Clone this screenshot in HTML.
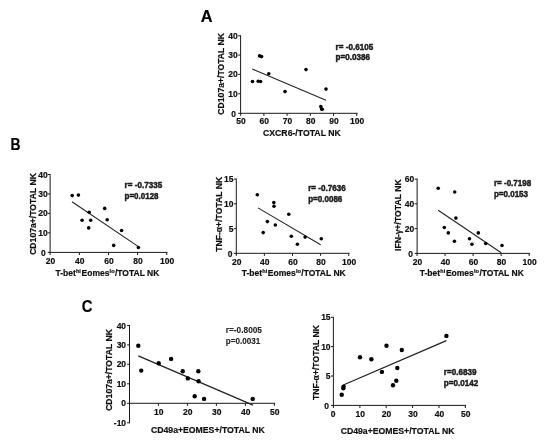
<!DOCTYPE html>
<html lang="en">
<head>
<meta charset="utf-8">
<title>Figure</title>
<style>
html,body{margin:0;padding:0;background:#fff;}
body{width:550px;height:446px;overflow:hidden;}
svg{display:block;filter:blur(0.35px);}
text{font-family:"Liberation Sans", sans-serif;fill:#111;stroke:#111;stroke-width:0.2px;}
.ax{stroke:#1a1a1a;stroke-width:1;fill:none;}
.fit{stroke:#222;fill:none;}
.dot{fill:#000;}
.tk{font-size:8.5px;font-weight:bold;}
.lb{font-size:8.7px;font-weight:bold;}
.yl{font-size:8.65px;font-weight:bold;}
.sup{font-size:5.6px;}
.st{font-size:8.3px;font-weight:bold;fill:#1c1c1c;stroke:#1c1c1c;stroke-width:0.45px;}
.st2{font-size:8.9px;font-weight:bold;fill:#262626;stroke:#262626;stroke-width:0.12px;}

.pl{font-size:16.5px;font-weight:bold;fill:#000;}
</style>
</head>
<body>
<svg width="550" height="446" viewBox="0 0 550 446">
<rect x="0" y="0" width="550" height="446" fill="#ffffff"/>
<g>
<line x1="240.6" y1="35.3" x2="240.6" y2="113.8" class="ax"/>
<line x1="240.1" y1="113.3" x2="357.7" y2="113.3" class="ax"/>
<line x1="238.2" y1="35.8" x2="240.6" y2="35.8" class="ax"/>
<text x="237.8" y="38.8" class="tk" text-anchor="end">40</text>
<line x1="238.2" y1="55.1" x2="240.6" y2="55.1" class="ax"/>
<text x="237.8" y="58.1" class="tk" text-anchor="end">30</text>
<line x1="238.2" y1="74.4" x2="240.6" y2="74.4" class="ax"/>
<text x="237.8" y="77.4" class="tk" text-anchor="end">20</text>
<line x1="238.2" y1="93.8" x2="240.6" y2="93.8" class="ax"/>
<text x="237.8" y="96.8" class="tk" text-anchor="end">10</text>
<line x1="238.2" y1="113.3" x2="240.6" y2="113.3" class="ax"/>
<text x="236.1" y="116.9" class="tk" text-anchor="end">0</text>
<line x1="240.7" y1="113.3" x2="240.7" y2="115.89999999999999" class="ax"/>
<text x="241.1" y="124.3" class="tk" text-anchor="middle">50</text>
<line x1="263.9" y1="113.3" x2="263.9" y2="115.89999999999999" class="ax"/>
<text x="264.3" y="124.3" class="tk" text-anchor="middle">60</text>
<line x1="287.1" y1="113.3" x2="287.1" y2="115.89999999999999" class="ax"/>
<text x="287.5" y="124.3" class="tk" text-anchor="middle">70</text>
<line x1="310.3" y1="113.3" x2="310.3" y2="115.89999999999999" class="ax"/>
<text x="310.7" y="124.3" class="tk" text-anchor="middle">80</text>
<line x1="333.5" y1="113.3" x2="333.5" y2="115.89999999999999" class="ax"/>
<text x="333.9" y="124.3" class="tk" text-anchor="middle">90</text>
<line x1="356.7" y1="113.3" x2="356.7" y2="115.89999999999999" class="ax"/>
<text x="357.1" y="124.3" class="tk" text-anchor="middle">100</text>
<text transform="translate(224,73.8) rotate(-90)" class="yl" text-anchor="middle">CD107a+/TOTAL NK</text>
<text x="301.9" y="136.0" class="lb" text-anchor="middle" style="font-size:8.7px">CXCR6-/TOTAL NK</text>
<line x1="252.2" y1="68.9" x2="326" y2="100.2" class="fit" stroke-width="1.05"/>
<circle cx="252.5" cy="81.5" r="1.8" class="dot"/>
<circle cx="258.2" cy="81.2" r="1.8" class="dot"/>
<circle cx="260.6" cy="81.5" r="1.8" class="dot"/>
<circle cx="259.6" cy="55.9" r="1.8" class="dot"/>
<circle cx="261.6" cy="56.6" r="1.8" class="dot"/>
<circle cx="268.8" cy="73.8" r="1.8" class="dot"/>
<circle cx="285" cy="91.6" r="1.8" class="dot"/>
<circle cx="306" cy="69.6" r="1.8" class="dot"/>
<circle cx="326" cy="89.1" r="1.8" class="dot"/>
<circle cx="320.8" cy="106.5" r="1.8" class="dot"/>
<circle cx="321.5" cy="109.1" r="1.8" class="dot"/>
<circle cx="322.3" cy="109.2" r="1.8" class="dot"/>
<text transform="translate(335.6,49.95) scale(0.9759,1)" class="st">r= -0.6105</text>
<text transform="translate(335.6,60.45) scale(0.9745,1)" class="st">p=0.0386</text>
</g>
<g>
<line x1="50.1" y1="174.0" x2="50.1" y2="252.9" class="ax"/>
<line x1="49.6" y1="252.4" x2="167.5" y2="252.4" class="ax"/>
<line x1="47.7" y1="174.5" x2="50.1" y2="174.5" class="ax"/>
<text x="47.7" y="177.5" class="tk" text-anchor="end">40</text>
<line x1="47.7" y1="193.95" x2="50.1" y2="193.95" class="ax"/>
<text x="47.7" y="196.95" class="tk" text-anchor="end">30</text>
<line x1="47.7" y1="213.4" x2="50.1" y2="213.4" class="ax"/>
<text x="47.7" y="216.4" class="tk" text-anchor="end">20</text>
<line x1="47.7" y1="232.9" x2="50.1" y2="232.9" class="ax"/>
<text x="47.7" y="235.9" class="tk" text-anchor="end">10</text>
<line x1="47.7" y1="252.4" x2="50.1" y2="252.4" class="ax"/>
<text x="45.7" y="255.8" class="tk" text-anchor="end">0</text>
<line x1="50.1" y1="252.4" x2="50.1" y2="255.0" class="ax"/>
<text x="50.5" y="263.7" class="tk" text-anchor="middle">20</text>
<line x1="79.4" y1="252.4" x2="79.4" y2="255.0" class="ax"/>
<text x="79.8" y="263.7" class="tk" text-anchor="middle">40</text>
<line x1="108.5" y1="252.4" x2="108.5" y2="255.0" class="ax"/>
<text x="108.9" y="263.7" class="tk" text-anchor="middle">60</text>
<line x1="137.6" y1="252.4" x2="137.6" y2="255.0" class="ax"/>
<text x="138.0" y="263.7" class="tk" text-anchor="middle">80</text>
<line x1="166.7" y1="252.4" x2="166.7" y2="255.0" class="ax"/>
<text x="167.1" y="263.7" class="tk" text-anchor="middle">100</text>
<text transform="translate(35.8,214) rotate(-90)" class="yl" text-anchor="middle">CD107a+/TOTAL NK</text>
<text x="107.4" y="276.2" class="lb" text-anchor="middle" style="font-size:8.5px">T-bet<tspan class="sup" dy="-3.0" dx="0.2">hi</tspan><tspan dy="3.0" dx="0.6">Eomes</tspan><tspan class="sup" dy="-3.0" dx="0.2">lo</tspan><tspan dy="3.0" dx="0.4">/TOTAL NK</tspan></text>
<line x1="72" y1="201.7" x2="138.4" y2="246.6" class="fit" stroke-width="1.05"/>
<circle cx="72.2" cy="195.6" r="1.8" class="dot"/>
<circle cx="78.4" cy="195.1" r="1.8" class="dot"/>
<circle cx="82.1" cy="220.2" r="1.8" class="dot"/>
<circle cx="90.7" cy="220.2" r="1.8" class="dot"/>
<circle cx="89.2" cy="212.3" r="1.8" class="dot"/>
<circle cx="88.7" cy="227.9" r="1.8" class="dot"/>
<circle cx="104.7" cy="208.4" r="1.8" class="dot"/>
<circle cx="107.2" cy="219.7" r="1.8" class="dot"/>
<circle cx="113.7" cy="245.4" r="1.8" class="dot"/>
<circle cx="121.6" cy="230.5" r="1.8" class="dot"/>
<circle cx="138.4" cy="247.5" r="1.8" class="dot"/>
<text transform="translate(124.6,188.15) scale(0.9759,1)" class="st">r= -0.7335</text>
<text transform="translate(124.6,198.95) scale(0.9632,1)" class="st">p=0.0128</text>
</g>
<g>
<line x1="236.3" y1="178.6" x2="236.3" y2="253.8" class="ax"/>
<line x1="235.8" y1="253.3" x2="349.5" y2="253.3" class="ax"/>
<line x1="233.9" y1="179.1" x2="236.3" y2="179.1" class="ax"/>
<text x="233.5" y="182.1" class="tk" text-anchor="end">15</text>
<line x1="233.9" y1="203.8" x2="236.3" y2="203.8" class="ax"/>
<text x="233.5" y="206.8" class="tk" text-anchor="end">10</text>
<line x1="233.9" y1="228.6" x2="236.3" y2="228.6" class="ax"/>
<text x="233.5" y="231.6" class="tk" text-anchor="end">5</text>
<line x1="233.9" y1="253.3" x2="236.3" y2="253.3" class="ax"/>
<text x="232.4" y="256.7" class="tk" text-anchor="end">0</text>
<line x1="236.3" y1="253.3" x2="236.3" y2="255.9" class="ax"/>
<text x="236.7" y="264.6" class="tk" text-anchor="middle">20</text>
<line x1="264.4" y1="253.3" x2="264.4" y2="255.9" class="ax"/>
<text x="264.8" y="264.6" class="tk" text-anchor="middle">40</text>
<line x1="292.5" y1="253.3" x2="292.5" y2="255.9" class="ax"/>
<text x="292.9" y="264.6" class="tk" text-anchor="middle">60</text>
<line x1="320.6" y1="253.3" x2="320.6" y2="255.9" class="ax"/>
<text x="321.0" y="264.6" class="tk" text-anchor="middle">80</text>
<line x1="348.7" y1="253.3" x2="348.7" y2="255.9" class="ax"/>
<text x="349.1" y="264.6" class="tk" text-anchor="middle">100</text>
<text transform="translate(221.8,214.3) rotate(-90)" class="yl" text-anchor="middle">TNF-α+/TOTAL NK</text>
<text x="293.7" y="276.3" class="lb" text-anchor="middle" style="font-size:8.5px">T-bet<tspan class="sup" dy="-3.0" dx="0.2">hi</tspan><tspan dy="3.0" dx="0.6">Eomes</tspan><tspan class="sup" dy="-3.0" dx="0.2">lo</tspan><tspan dy="3.0" dx="0.4">/TOTAL NK</tspan></text>
<line x1="258.0" y1="207.9" x2="320.7" y2="244.7" class="fit" stroke-width="1.05"/>
<circle cx="257.3" cy="194.7" r="1.8" class="dot"/>
<circle cx="273.8" cy="202.6" r="1.8" class="dot"/>
<circle cx="274" cy="206.3" r="1.8" class="dot"/>
<circle cx="267.4" cy="221.6" r="1.8" class="dot"/>
<circle cx="275.3" cy="225.0" r="1.8" class="dot"/>
<circle cx="263.2" cy="232.6" r="1.8" class="dot"/>
<circle cx="288.8" cy="214.2" r="1.8" class="dot"/>
<circle cx="291.3" cy="236.3" r="1.8" class="dot"/>
<circle cx="297.4" cy="244.2" r="1.8" class="dot"/>
<circle cx="305.1" cy="237.1" r="1.8" class="dot"/>
<circle cx="321.3" cy="238.8" r="1.8" class="dot"/>
<text transform="translate(308.2,190.95) scale(0.9785,1)" class="st">r= -0.7636</text>
<text transform="translate(308.2,202.45) scale(0.9688,1)" class="st">p=0.0086</text>
</g>
<g>
<line x1="417.1" y1="178.6" x2="417.1" y2="253.9" class="ax"/>
<line x1="416.6" y1="253.4" x2="530.0" y2="253.4" class="ax"/>
<line x1="414.70000000000005" y1="179.1" x2="417.1" y2="179.1" class="ax"/>
<text x="414.3" y="182.1" class="tk" text-anchor="end">60</text>
<line x1="414.70000000000005" y1="203.8" x2="417.1" y2="203.8" class="ax"/>
<text x="414.3" y="206.8" class="tk" text-anchor="end">40</text>
<line x1="414.70000000000005" y1="228.6" x2="417.1" y2="228.6" class="ax"/>
<text x="414.3" y="231.6" class="tk" text-anchor="end">20</text>
<line x1="414.70000000000005" y1="253.4" x2="417.1" y2="253.4" class="ax"/>
<text x="413.0" y="256.9" class="tk" text-anchor="end">0</text>
<line x1="417.0" y1="253.4" x2="417.0" y2="256.0" class="ax"/>
<text x="417.4" y="264.6" class="tk" text-anchor="middle">20</text>
<line x1="445.05" y1="253.4" x2="445.05" y2="256.0" class="ax"/>
<text x="445.45" y="264.6" class="tk" text-anchor="middle">40</text>
<line x1="473.1" y1="253.4" x2="473.1" y2="256.0" class="ax"/>
<text x="473.5" y="264.6" class="tk" text-anchor="middle">60</text>
<line x1="501.15" y1="253.4" x2="501.15" y2="256.0" class="ax"/>
<text x="501.55" y="264.6" class="tk" text-anchor="middle">80</text>
<line x1="529.2" y1="253.4" x2="529.2" y2="256.0" class="ax"/>
<text x="529.6" y="264.6" class="tk" text-anchor="middle">100</text>
<text transform="translate(401.2,215.2) rotate(-90)" class="yl" text-anchor="middle">IFN-γ+/TOTAL NK</text>
<text x="471.8" y="276.3" class="lb" text-anchor="middle" style="font-size:8.5px">T-bet<tspan class="sup" dy="-3.0" dx="0.2">hi</tspan><tspan dy="3.0" dx="0.6">Eomes</tspan><tspan class="sup" dy="-3.0" dx="0.2">lo</tspan><tspan dy="3.0" dx="0.4">/TOTAL NK</tspan></text>
<line x1="438.2" y1="210.2" x2="501.2" y2="252.8" class="fit" stroke-width="1.05"/>
<circle cx="438.2" cy="188.3" r="1.8" class="dot"/>
<circle cx="454.7" cy="192.0" r="1.8" class="dot"/>
<circle cx="455.9" cy="218.1" r="1.8" class="dot"/>
<circle cx="444.3" cy="227.5" r="1.8" class="dot"/>
<circle cx="448.3" cy="232.9" r="1.8" class="dot"/>
<circle cx="454.4" cy="241.3" r="1.8" class="dot"/>
<circle cx="469.5" cy="238.8" r="1.8" class="dot"/>
<circle cx="471.9" cy="244.2" r="1.8" class="dot"/>
<circle cx="478.3" cy="232.9" r="1.8" class="dot"/>
<circle cx="485.7" cy="243.5" r="1.8" class="dot"/>
<circle cx="502" cy="245.5" r="1.8" class="dot"/>
<text transform="translate(493.9,185.65) scale(0.9707,1)" class="st">r= -0.7198</text>
<text transform="translate(493.9,196.95) scale(0.9688,1)" class="st">p=0.0153</text>
</g>
<g>
<line x1="129.5" y1="325.0" x2="129.5" y2="423.2" class="ax"/>
<line x1="129.0" y1="403.3" x2="275.2" y2="403.3" class="ax"/>
<line x1="127.1" y1="325.5" x2="129.5" y2="325.5" class="ax"/>
<text x="126.1" y="328.5" class="tk" text-anchor="end">40</text>
<line x1="127.1" y1="344.9" x2="129.5" y2="344.9" class="ax"/>
<text x="126.1" y="347.9" class="tk" text-anchor="end">30</text>
<line x1="127.1" y1="364.3" x2="129.5" y2="364.3" class="ax"/>
<text x="126.1" y="367.3" class="tk" text-anchor="end">20</text>
<line x1="127.1" y1="383.8" x2="129.5" y2="383.8" class="ax"/>
<text x="126.1" y="386.8" class="tk" text-anchor="end">10</text>
<line x1="127.1" y1="403.3" x2="129.5" y2="403.3" class="ax"/>
<text x="126.1" y="406.3" class="tk" text-anchor="end">0</text>
<line x1="127.1" y1="422.8" x2="129.5" y2="422.8" class="ax"/>
<text x="126.1" y="426.4" class="tk" text-anchor="end">-10</text>
<line x1="158.4" y1="403.3" x2="158.4" y2="405.90000000000003" class="ax"/>
<text x="158.8" y="414.9" class="tk" text-anchor="middle">10</text>
<line x1="187.4" y1="403.3" x2="187.4" y2="405.90000000000003" class="ax"/>
<text x="187.8" y="414.9" class="tk" text-anchor="middle">20</text>
<line x1="216.4" y1="403.3" x2="216.4" y2="405.90000000000003" class="ax"/>
<text x="216.8" y="414.9" class="tk" text-anchor="middle">30</text>
<line x1="245.4" y1="403.3" x2="245.4" y2="405.90000000000003" class="ax"/>
<text x="245.8" y="414.9" class="tk" text-anchor="middle">40</text>
<line x1="274.4" y1="403.3" x2="274.4" y2="405.90000000000003" class="ax"/>
<text x="274.8" y="414.9" class="tk" text-anchor="middle">50</text>
<text transform="translate(112.2,370) rotate(-90)" class="yl" text-anchor="middle">CD107a+/TOTAL NK</text>
<text x="207.9" y="432.8" class="lb" text-anchor="middle" style="font-size:8.7px">CD49a+EOMES+/TOTAL NK</text>
<line x1="138.3" y1="355.9" x2="253" y2="405.1" class="fit" stroke-width="1.25"/>
<circle cx="138.3" cy="345.7" r="2.2" class="dot"/>
<circle cx="141.2" cy="370.6" r="2.2" class="dot"/>
<circle cx="158.7" cy="363.2" r="2.2" class="dot"/>
<circle cx="171.1" cy="358.9" r="2.2" class="dot"/>
<circle cx="182.7" cy="371.2" r="2.2" class="dot"/>
<circle cx="187.8" cy="378.4" r="2.2" class="dot"/>
<circle cx="198.3" cy="371.2" r="2.2" class="dot"/>
<circle cx="198.6" cy="381.3" r="2.2" class="dot"/>
<circle cx="194.7" cy="396.2" r="2.2" class="dot"/>
<circle cx="204.1" cy="398.9" r="2.2" class="dot"/>
<circle cx="252.7" cy="398.9" r="2.2" class="dot"/>
<text transform="translate(225.8,333.25) scale(0.932,1)" class="st2">r=-0.8005</text>
<text transform="translate(225.8,344.25) scale(0.9141,1)" class="st2">p=0.0031</text>
</g>
<g>
<line x1="333.4" y1="316.8" x2="333.4" y2="405.9" class="ax"/>
<line x1="332.9" y1="405.4" x2="466.1" y2="405.4" class="ax"/>
<line x1="331.0" y1="317.3" x2="333.4" y2="317.3" class="ax"/>
<text x="330.6" y="320.3" class="tk" text-anchor="end">15</text>
<line x1="331.0" y1="346.6" x2="333.4" y2="346.6" class="ax"/>
<text x="330.6" y="349.6" class="tk" text-anchor="end">10</text>
<line x1="331.0" y1="376.0" x2="333.4" y2="376.0" class="ax"/>
<text x="330.6" y="379.0" class="tk" text-anchor="end">5</text>
<line x1="331.0" y1="405.4" x2="333.4" y2="405.4" class="ax"/>
<text x="328.9" y="408.9" class="tk" text-anchor="end">0</text>
<line x1="333.4" y1="405.4" x2="333.4" y2="408.0" class="ax"/>
<text x="333.0" y="416.9" class="tk" text-anchor="middle">0</text>
<line x1="359.9" y1="405.4" x2="359.9" y2="408.0" class="ax"/>
<text x="360.3" y="416.9" class="tk" text-anchor="middle">10</text>
<line x1="386.2" y1="405.4" x2="386.2" y2="408.0" class="ax"/>
<text x="386.6" y="416.9" class="tk" text-anchor="middle">20</text>
<line x1="412.6" y1="405.4" x2="412.6" y2="408.0" class="ax"/>
<text x="413.0" y="416.9" class="tk" text-anchor="middle">30</text>
<line x1="439.0" y1="405.4" x2="439.0" y2="408.0" class="ax"/>
<text x="439.4" y="416.9" class="tk" text-anchor="middle">40</text>
<line x1="465.3" y1="405.4" x2="465.3" y2="408.0" class="ax"/>
<text x="465.7" y="416.9" class="tk" text-anchor="middle">50</text>
<text transform="translate(319.4,362.5) rotate(-90)" class="yl" text-anchor="middle">TNF-α+/TOTAL NK</text>
<text x="397.6" y="433.5" class="lb" text-anchor="middle" style="font-size:8.7px">CD49a+EOMES+/TOTAL NK</text>
<line x1="343.3" y1="385.0" x2="446.4" y2="340.6" class="fit" stroke-width="1.25"/>
<circle cx="341.7" cy="394.8" r="2.2" class="dot"/>
<circle cx="343.3" cy="388.3" r="2.2" class="dot"/>
<circle cx="343.6" cy="386.6" r="2.2" class="dot"/>
<circle cx="360" cy="357.2" r="2.2" class="dot"/>
<circle cx="371.4" cy="359.2" r="2.2" class="dot"/>
<circle cx="381.9" cy="371.9" r="2.2" class="dot"/>
<circle cx="386.5" cy="345.8" r="2.2" class="dot"/>
<circle cx="393" cy="385.3" r="2.2" class="dot"/>
<circle cx="396.3" cy="380.7" r="2.2" class="dot"/>
<circle cx="397.3" cy="368.0" r="2.2" class="dot"/>
<circle cx="401.8" cy="350.0" r="2.2" class="dot"/>
<circle cx="446.4" cy="335.9" r="2.2" class="dot"/>
<text transform="translate(443.8,374.65) scale(0.9804,1)" class="st">r=0.6839</text>
<text transform="translate(443.8,385.95) scale(0.9745,1)" class="st">p=0.0142</text>
</g>
<text transform="translate(200.8,21.8) scale(0.99,0.98)" class="pl">A</text>
<text transform="translate(10.4,149.8) scale(0.84,1.04)" class="pl">B</text>
<text transform="translate(81.7,312.3) scale(0.90,1.0)" class="pl">C</text>
</svg>
</body>
</html>
